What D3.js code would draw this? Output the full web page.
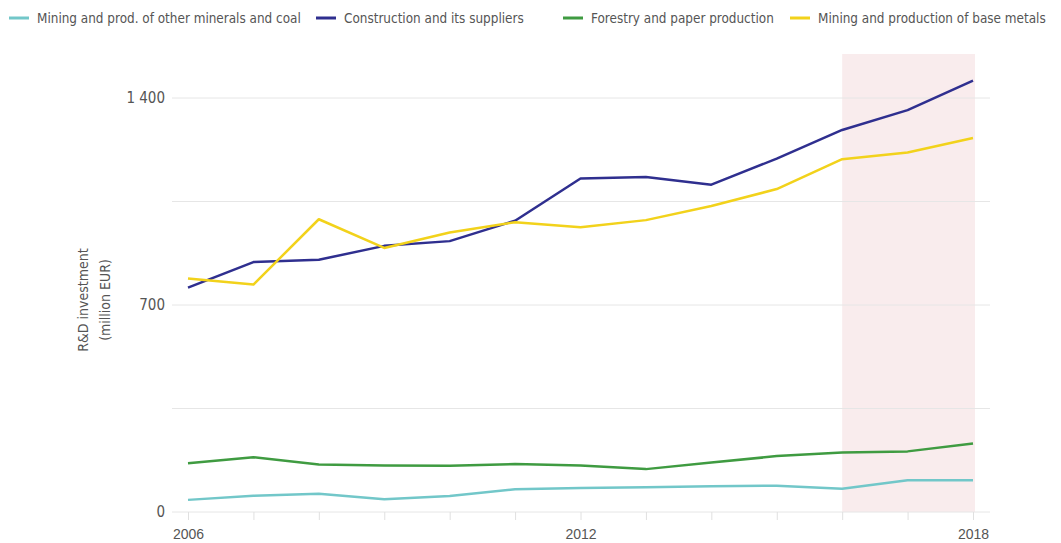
<!DOCTYPE html>
<html>
<head>
<meta charset="utf-8">
<script src="https://cdn.jsdelivr.net/npm/d3@7/dist/d3.min.js"></script>
<style>
  html, body { margin: 0; padding: 0; background: #fff; }
  svg { display: block; font-family: "DejaVu Sans Condensed", "Roboto", sans-serif; }
</style>
</head>
<body>
<svg id="chart" width="1061" height="543"></svg>
<script>
// R&D investment by sector, million EUR
const years = [2006, 2007, 2008, 2009, 2010, 2011, 2012, 2013, 2014, 2015, 2016, 2017, 2018];
const otherMinerals = [41, 55, 62, 43, 54, 77, 81, 84, 87, 89, 79, 107, 107];
const construction  = [759, 845, 853, 900, 916, 985, 1128, 1133, 1107, 1195, 1292, 1359, 1459];
const forestry      = [165, 185, 161, 157, 156, 162, 157, 145, 167, 189, 201, 205, 232];
const baseMetals    = [790, 769, 990, 893, 945, 980, 963, 987, 1035, 1092, 1193, 1216, 1265];

const seriesNames  = ["Mining and prod. of other minerals and coal", "Construction and its suppliers", "Forestry and paper production", "Mining and production of base metals"];
const seriesColors = ["#72c7c9", "#2f2f8f", "#3f9b41", "#f2d21b"];
const seriesValues = [otherMinerals, construction, forestry, baseMetals];

const gridValues   = [0, 350, 700, 1050, 1400];
const yTickLabels  = [0, 700, 1400];
const xTickLabels  = [2006, 2012, 2018];
const shadedYears  = [2016, 2018];

const svg = d3.select("#chart");

const x = d3.scaleLinear().domain([2006, 2018]).range([188, 973]);
const y = d3.scaleLinear().domain([0, 1400]).range([512, 98]);

// shaded projection period
svg.append("rect")
  .attr("x", x(shadedYears[0]))
  .attr("y", 54)
  .attr("width", x(shadedYears[1]) - x(shadedYears[0]) + 2)
  .attr("height", y(0) - 54)
  .attr("fill", "#f9eced");

// horizontal gridlines
svg.append("g").selectAll("line")
  .data(gridValues)
  .join("line")
  .attr("x1", 172).attr("x2", 990)
  .attr("y1", d => y(d)).attr("y2", d => y(d))
  .attr("stroke", "#e6e6e6")
  .attr("stroke-width", 1);

// y axis labels
const fmt = d => d3.format(",")(d).replace(/,/g, " ");
svg.append("g").selectAll("text")
  .data(yTickLabels)
  .join("text")
  .attr("x", 165)
  .attr("y", d => y(d))
  .attr("dy", "0.35em")
  .attr("text-anchor", "end")
  .attr("fill", "#555")
  .attr("font-size", 15)
  .text(fmt);

// x axis ticks and labels
const xAxis = d3.axisBottom(x)
  .tickValues(years)
  .tickSize(8)
  .tickPadding(3)
  .tickFormat(d => xTickLabels.includes(d) ? d : "");
const gx = svg.append("g")
  .attr("transform", `translate(0,${y(0)})`)
  .call(xAxis);
gx.select(".domain").remove();
gx.selectAll(".tick line").attr("stroke", "#e0e0e0");
gx.selectAll(".tick text")
  .attr("fill", "#555")
  .attr("font-size", 14)
  .attr("font-family", null)
  .attr("dy", "16px");

// y axis title
const title = svg.append("text")
  .attr("transform", "translate(88,300) rotate(-90)")
  .attr("text-anchor", "middle")
  .attr("fill", "#555")
  .attr("font-size", 14);
title.append("tspan").attr("x", 0).attr("dy", 0).text("R&D investment");
title.append("tspan").attr("x", 0).attr("dy", "1.6em").text("(million EUR)");

// series lines
const line = d3.line()
  .x((d, i) => x(years[i]))
  .y(d => y(d));

svg.append("g").selectAll("path")
  .data(seriesValues)
  .join("path")
  .attr("d", line)
  .attr("fill", "none")
  .attr("stroke", (d, i) => seriesColors[i])
  .attr("stroke-width", 2.5)
  .attr("stroke-linejoin", "round");

// legend, one entry per series along the top edge
const legendX = [9, 316, 563, 790];
const legend = svg.append("g").attr("transform", "translate(0,18)");
seriesNames.forEach((name, i) => {
  const g = legend.append("g").attr("transform", `translate(${legendX[i]},0)`);
  g.append("line")
    .attr("x1", 0).attr("x2", 20)
    .attr("y1", 0).attr("y2", 0)
    .attr("stroke", seriesColors[i])
    .attr("stroke-width", 3);
  g.append("text")
    .attr("x", 28)
    .attr("dy", "0.35em")
    .attr("fill", "#555")
    .attr("font-size", 13.4)
    .text(name);
});
</script>
</body>
</html>
